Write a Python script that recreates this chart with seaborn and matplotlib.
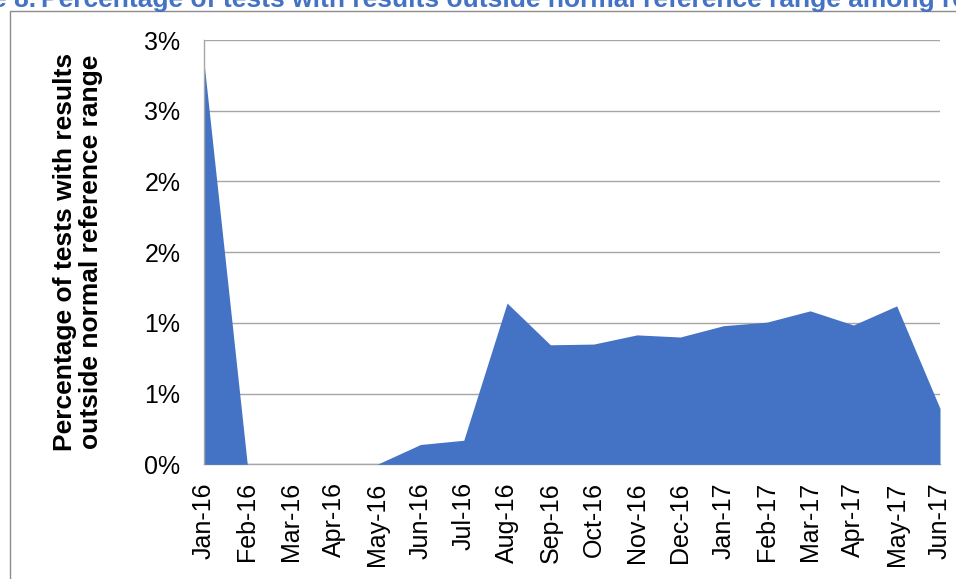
import numpy as np
import pandas as pd
import matplotlib
matplotlib.use("Agg")
import matplotlib.pyplot as plt
import seaborn as sns
from matplotlib.patches import Rectangle

# monthly values (% of tests outside reference range)
months = ['Jan-16', 'Feb-16', 'Mar-16', 'Apr-16', 'May-16', 'Jun-16',
          'Jul-16', 'Aug-16', 'Sep-16', 'Oct-16', 'Nov-16', 'Dec-16',
          'Jan-17', 'Feb-17', 'Mar-17', 'Apr-17', 'May-17', 'Jun-17']
pct_outside = [2.84, 0.0, 0.0, 0.0, 0.0, 0.14,
               0.17, 1.14, 0.845, 0.85, 0.915, 0.90,
               0.98, 1.005, 1.085, 0.985, 1.12, 0.395]
y_ticks = [0, 0.5, 1.0, 1.5, 2.0, 2.5, 3.0]
y_tick_labels = ['0%', '1%', '1%', '2%', '2%', '3%', '3%']

title_prefix = 'Figure 8.'
title_text = 'Percentage of tests with results outside normal reference range among residents'
y_label = 'Percentage of tests with results\noutside normal reference range'

df = pd.DataFrame({'month': months, 'pct': pct_outside})
df['pos'] = np.arange(len(df))

sns.set_theme(style='white')
plt.rcParams['font.family'] = ['Liberation Sans', 'DejaVu Sans']

W, H = 956, 579
fig = plt.figure(figsize=(W / 100, H / 100), dpi=100)
ax = fig.add_axes([204 / W, (H - 464.3) / H, 736 / W, 424.3 / H])

fill_col = '#4472C4'
grid_col = '#A6A6A6'

sns.lineplot(data=df, x='pos', y='pct', ax=ax, color=fill_col, linewidth=0, zorder=3)
ax.fill_between(df['pos'], df['pct'], 0, color=fill_col, linewidth=0, zorder=3)

ax.set_xlim(0, len(months) - 1)
ax.set_ylim(0, 3.0)
ax.set_yticks(y_ticks)
ax.set_yticklabels(y_tick_labels)
ax.set_xticks(df['pos'])
ax.set_xticklabels(months, rotation=90)
ax.tick_params(axis='y', length=0, pad=17, labelsize=18, labelcolor='black')
ax.tick_params(axis='x', length=0, pad=13, labelsize=18, labelcolor='black')
ax.set_xlabel('')
ax.set_ylabel(y_label, fontsize=19, fontweight='bold', color='black', linespacing=1.1)
ax.yaxis.set_label_coords(-0.137, 0.5)

ax.yaxis.grid(True, color=grid_col, linewidth=1.0, zorder=0)
ax.set_axisbelow(True)
for side in ['top', 'right']:
    ax.spines[side].set_visible(False)
ax.spines['left'].set_color(grid_col)
ax.spines['bottom'].set_color(grid_col)
ax.spines['left'].set_linewidth(1.0)
ax.spines['bottom'].set_linewidth(1.0)
ax.spines['left'].set_zorder(4)

# outer chart frame, cropped by the image edges
fig.patches.append(Rectangle((10 / W, -0.05), 1.2, 1.05 - 11 / H, transform=fig.transFigure,
                             fill=False, edgecolor='#8c8c8c', linewidth=1.0))

# title, cut off at the top of the image like in the source
ty = 1 - 7 / H
fig.text(36 / W, ty, title_prefix, ha='right', va='baseline', fontsize=19,
         fontweight='bold', color=fill_col)
fig.text(41 / W, ty, title_text, ha='left', va='baseline', fontsize=19,
         fontweight='bold', color=fill_col)

fig.savefig('out.png', dpi=100)
